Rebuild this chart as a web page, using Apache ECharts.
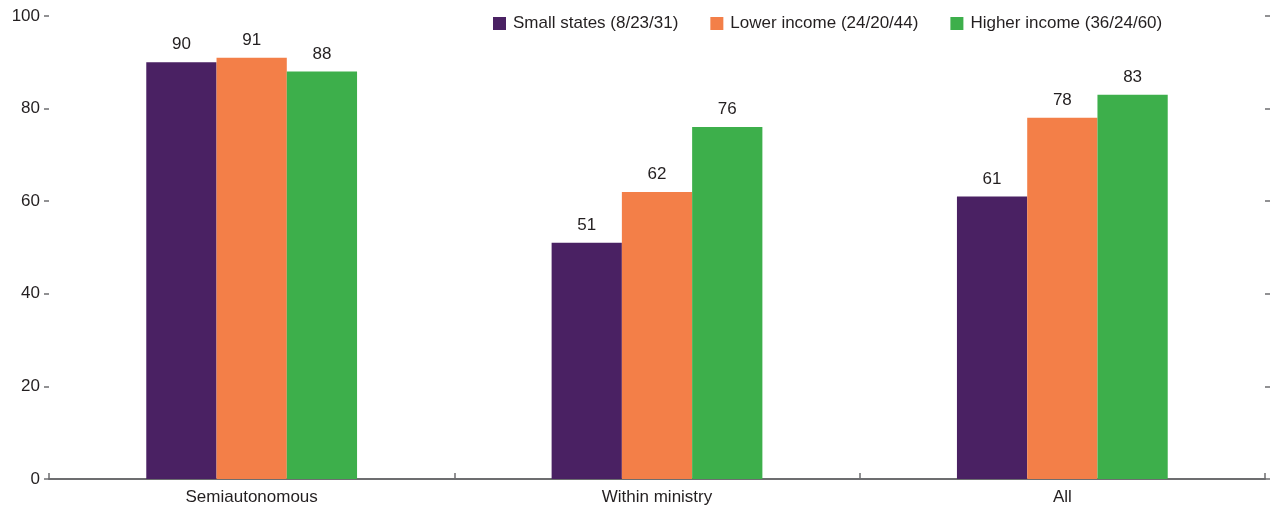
<!DOCTYPE html>
<html>
<head>
<meta charset="utf-8">
<script src="https://cdn.jsdelivr.net/npm/echarts@6/dist/echarts.min.js"></script>
<style>
  html, body { margin: 0; padding: 0; background: #fff; }
  #chart { width: 1271px; height: 509px; }
</style>
</head>
<body>
<div id="chart"></div>
<script>
const categories = ['Semiautonomous', 'Within ministry', 'All'];
const seriesNames = ['Small states (8/23/31)', 'Lower income (24/20/44)', 'Higher income (36/24/60)'];
const smallStates = [90, 51, 61];
const lowerIncome = [91, 62, 78];
const higherIncome = [88, 76, 83];
const colors = ['#4a2163', '#f37f48', '#3daf4b'];

const FONT = '"Liberation Sans Narrow", "Arial Narrow", "Liberation Sans", sans-serif';
const TEXT = '#231f20';
const AXIS = '#6d6e70';
const FS = 17;

const chart = echarts.init(document.getElementById('chart'), null, { renderer: 'canvas' });

const mkSeries = (name, data, color) => ({
  name, type: 'bar', data,
  barGap: '0%', barCategoryGap: '48%',
  itemStyle: { color },
  label: { show: true, position: 'top', distance: 9, color: TEXT, fontFamily: FONT, fontSize: FS },
  yAxisIndex: 0
});

chart.setOption({
  animation: false,
  textStyle: { fontFamily: FONT },
  legend: {
    top: 10, left: 488,
    itemWidth: 13, itemHeight: 13, itemGap: 32,
    icon: 'rect',
    textStyle: { color: TEXT, fontFamily: FONT, fontSize: FS, padding: [0, 0, 0, 2] },
    data: seriesNames
  },
  grid: { left: 49, right: 6, top: 16, bottom: 30, containLabel: false },
  xAxis: {
    type: 'category', data: categories,
    axisLine: { lineStyle: { color: AXIS, width: 2 } },
    axisTick: { show: true, inside: true, length: 6, lineStyle: { color: AXIS, width: 1.5 } },
    axisLabel: { color: TEXT, fontFamily: FONT, fontSize: FS, margin: 10 }
  },
  yAxis: [
    {
      type: 'value', min: 0, max: 100, interval: 20, position: 'left',
      axisLine: { show: false },
      axisTick: { show: true, length: 5, lineStyle: { color: AXIS, width: 1.5 } },
      axisLabel: { color: TEXT, fontFamily: FONT, fontSize: FS, margin: 9 },
      splitLine: { show: false }
    },
    {
      type: 'value', min: 0, max: 100, interval: 20, position: 'right',
      axisLine: { show: false },
      axisTick: { show: true, length: 5, lineStyle: { color: AXIS, width: 1.5 } },
      axisLabel: { show: false },
      splitLine: { show: false }
    }
  ],
  series: [
    mkSeries(seriesNames[0], smallStates, colors[0]),
    mkSeries(seriesNames[1], lowerIncome, colors[1]),
    mkSeries(seriesNames[2], higherIncome, colors[2])
  ]
});
</script>
</body>
</html>
